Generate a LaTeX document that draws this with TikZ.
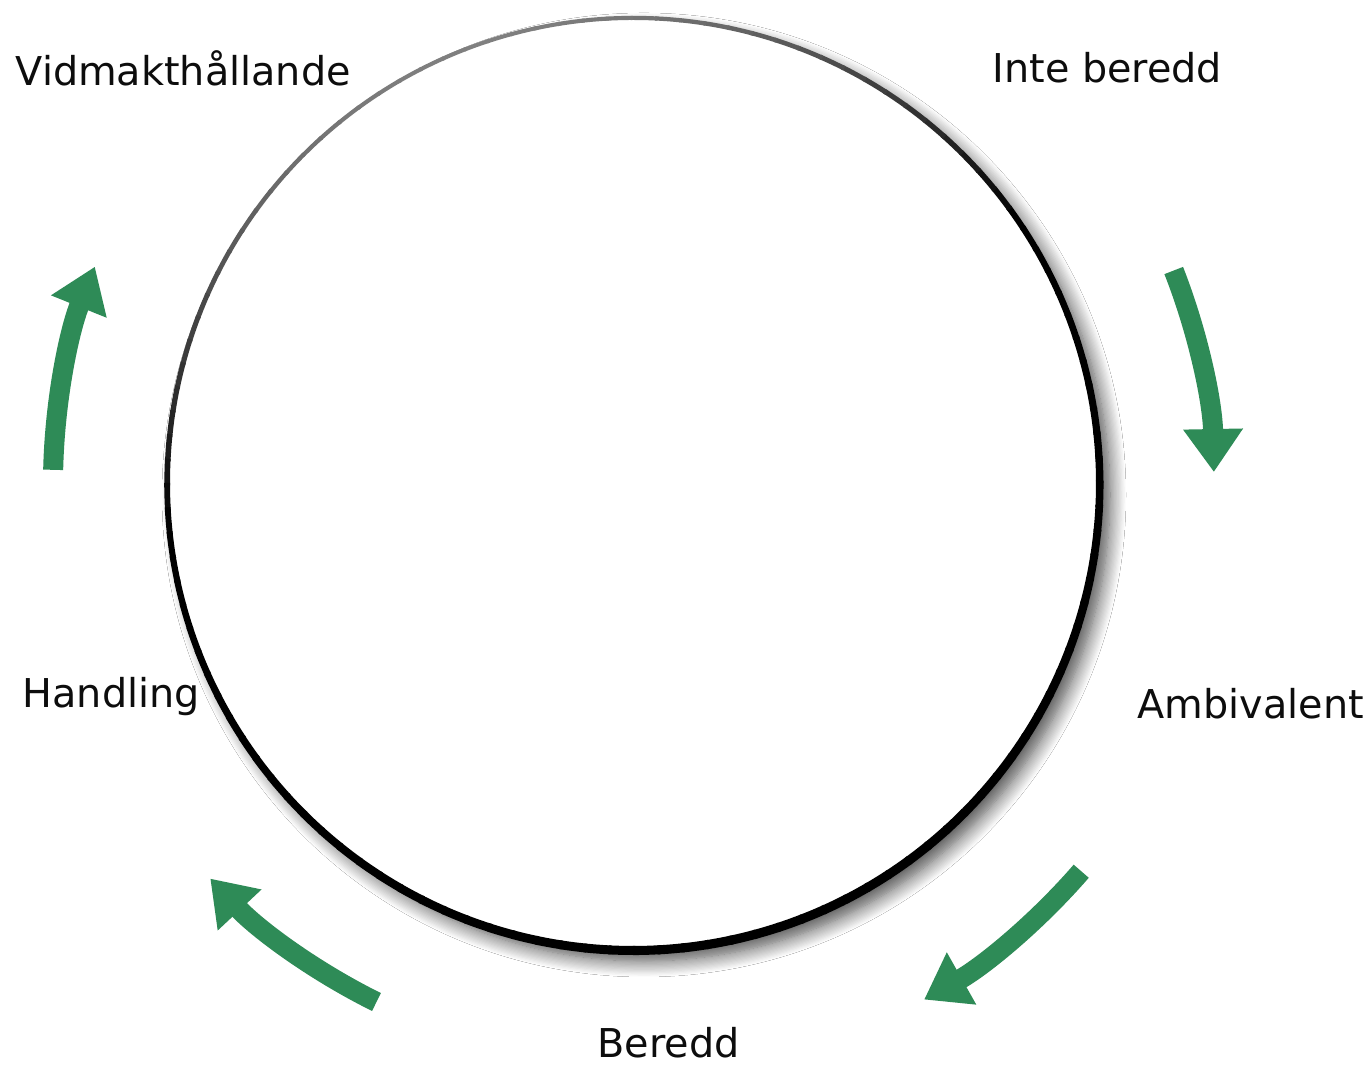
\documentclass[tikz,border=0pt]{standalone}
\usepackage{fontspec}
\setmainfont{DejaVu Sans}
\usetikzlibrary{arrows.meta,shadows.blur}
\definecolor{arrowgreen}{RGB}{46,139,87}
\newcommand\greenarc[3]{%
  \draw[garrow] (c) ++(#1:#3) arc[start angle=#1, end angle=#2, radius=#3];}
\begin{document}
\begin{tikzpicture}[x=0.1mm,y=0.1mm,
  lbl/.style={font=\fontsize{11.3pt}{13pt}\selectfont, inner sep=0pt, anchor=base west, text=black!95},
  garrow/.style={draw=arrowgreen, line width=2mm, -{Triangle[width=5.7mm,length=4.3mm]}}]
\useasboundingbox[fill=white] (0,0) rectangle (1372,1068);
\coordinate (c) at (633,585);
% white disc with a soft shadow on the lower right
\fill[white, blur shadow={shadow xshift=1mm, shadow yshift=-1.1mm, shadow blur radius=1.6mm, shadow blur steps=14, shadow opacity=72}]
  (634,584) circle[radius=466];
% the ring: grey and thin at the top left, black and thick at the bottom right
\foreach \a in {0,3,...,357}{
  \pgfmathsetmacro\u{cos(\a+1.5-110)}
  \pgfmathsetmacro\p{100-50*max(0,(\u-0.25)/0.75)}
  \pgfmathsetmacro\w{4+2.6*(1-\u)}
  \pgfmathsetmacro\rr{463+\w/2}
  \draw[black!\p, line width=\w*0.1mm] (c) ++(\a:\rr) arc[start angle=\a, end angle=\a+3.3, radius=\rr];
}
% labels
\node[lbl] (vid)  at (15,982)  {Vidmakthållande};
\node[lbl] (inte) at (992,985) {Inte beredd};
\node[lbl] (amb)  at (1137,349) {Ambivalent};
\node[lbl] (ber)  at (597,10)  {Beredd};
\node[lbl] (hand) at (22,360)  {Handling};
% green arrows
\greenarc{21.45}{1.08}{581}
\greenarc{-40.9}{-60.6}{593}
\greenarc{243.7}{223.1}{579}
\greenarc{178.7}{158.1}{580}
\end{tikzpicture}
\end{document}
